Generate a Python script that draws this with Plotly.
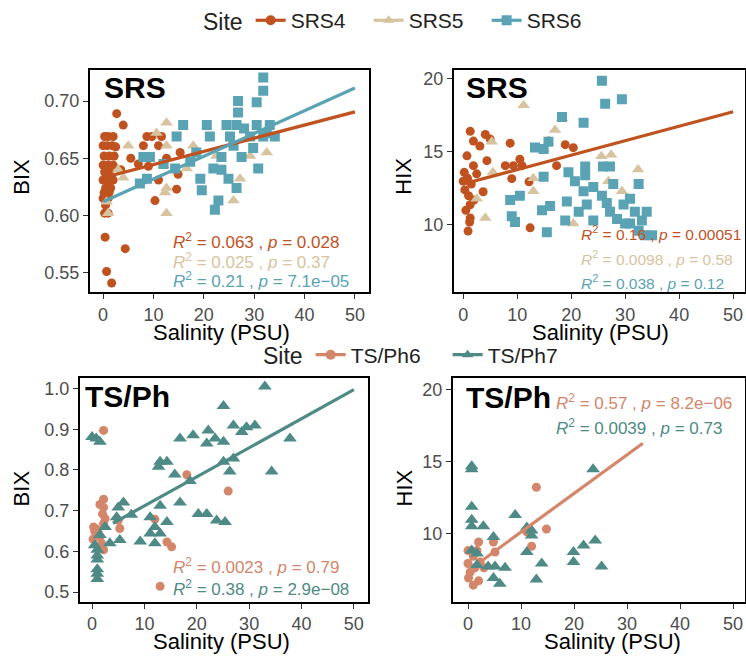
import plotly.graph_objects as go

FW, FH = 746, 662
FONT = "Liberation Sans, Arial, sans-serif"

# ---------------- colours ----------------
C_SRS4 = "#C0521F"
C_SRS5 = "#D8C3A0"
C_SRS6 = "#5AA3B5"
C_PH6 = "#D4866A"
C_PH7 = "#4E8A86"

# ---------------- data: SRS, BIX ----------------
srs4_bix_sal = [2.7, 4.0, 0.3, 1.0, 2.0, 0.0, 0.8, 1.8, 0.2, 1.2, 2.2, 0.0, 1.0, 2.0, 0.3, 1.3,
                0.0, 1.0, 2.0, 0.5, 1.5, 0.2, 1.2, 0.0, 1.0, 0.5, 0.3, 1.0, 0.4, 4.4, 0.7, 1.7,
                8.7, 9.7, 11.6, 8.0, 11.0, 15.3, 12.6, 9.0, 14.9, 11.0, 14.6, 10.3, 3.5, 5.5, 7.0, 2.5]
srs4_bix = [0.689, 0.679, 0.669, 0.669, 0.669, 0.661, 0.661, 0.661, 0.652, 0.652, 0.652, 0.644,
            0.644, 0.644, 0.638, 0.638, 0.631, 0.631, 0.631, 0.624, 0.624, 0.620, 0.620, 0.615,
            0.615, 0.609, 0.602, 0.602, 0.581, 0.571, 0.551, 0.541, 0.669, 0.669, 0.669, 0.661,
            0.661, 0.655, 0.650, 0.643, 0.636, 0.631, 0.623, 0.613, 0.640, 0.650, 0.645, 0.660]
srs5_bix_sal = [12.6, 5.0, 12.6, 17.9, 22.5, 29.2, 32.5, 12.0, 16.6, 4.0, 27.2, 12.6, 12.3, 12.6,
                25.9, 1.0, 0.7, 10.6, 3.0]
srs5_bix = [0.681, 0.661, 0.661, 0.661, 0.652, 0.652, 0.655, 0.644, 0.641, 0.633, 0.632, 0.624,
            0.620, 0.602, 0.613, 0.602, 0.612, 0.672, 0.640]
srs6_bix_sal = [31.8, 31.8, 26.8, 26.8, 30.5, 15.9, 20.6, 24.5, 26.5, 30.5, 33.1, 14.6, 21.2, 25.2,
                29.2, 31.8, 34.1, 25.9, 29.8, 8.0, 9.3, 23.5, 27.5, 30.8, 14.3, 21.9, 8.7, 23.5,
                24.9, 19.3, 19.6, 26.5, 22.9, 22.2, 7.3, 17.3, 28.0, 32.5, 12.0, 18.5]
srs6_bix = [0.7205, 0.709, 0.700, 0.690, 0.699, 0.679, 0.679, 0.679, 0.679, 0.679, 0.679, 0.669,
            0.669, 0.669, 0.669, 0.669, 0.669, 0.661, 0.659, 0.651, 0.651, 0.651, 0.651, 0.641,
            0.641, 0.641, 0.632, 0.640, 0.632, 0.632, 0.622, 0.624, 0.613, 0.605, 0.628, 0.647,
            0.676, 0.672, 0.645, 0.655]
srs4_bix_fit_sal = [0, 50]
srs4_bix_fit = [0.633, 0.6905]
srs6_bix_fit_sal = [0, 50]
srs6_bix_fit = [0.612, 0.7114]

# ---------------- data: SRS, HIX ----------------
srs4_hix_sal = [1.3, 1.9, 3.1, 4.1, 5.0, 0.7, 1.9, 4.4, 0.9, 1.3, 1.3, 3.7, 8.7, 10.5, 7.8, 9.3,
                10.9, 9.0, 12.2, 15.8, 18.9, 20.4, 17.3, 12.4, 0.2, 0.8, 1.5, 0.3, 1.0, 2.0, 0.5,
                1.2, 0.0, 2.5]
srs4_hix = [16.41, 15.74, 15.4, 16.19, 15.88, 14.73, 14.06, 14.4, 9.58, 10.48, 11.38, 12.27, 15.6,
            14.5, 14.06, 14.06, 14.06, 13.17, 12.95, 15.74, 15.5, 15.29, 14.06, 9.8, 13.6, 13.2,
            12.8, 12.4, 12.0, 11.7, 11.0, 10.2, 13.0, 13.5]
srs5_hix_sal = [11.2, 17.0, 18.3, 4.1, 2.5, 5.5, 13.0, 13.0, 25.6, 27.4, 32.4, 26.9, 29.4, 20.4,
                14.9, 5.3]
srs5_hix = [18.2, 16.5, 17.3, 10.48, 11.8, 13.6, 13.2, 12.3, 14.7, 14.8, 13.8, 13.0, 12.3, 10.1,
            15.2, 15.7]
srs6_hix_sal = [25.7, 26.3, 29.4, 18.3, 22.3, 15.8, 13.3, 14.9, 14.9, 10.5, 8.7, 9.0, 9.6, 16.1,
                14.6, 15.5, 19.2, 18.9, 19.5, 20.7, 22.6, 22.6, 21.4, 22.3, 22.9, 24.1, 24.1, 25.9,
                25.7, 26.6, 27.2, 27.8, 28.5, 29.7, 30.0, 30.9, 31.8, 32.5, 33.1, 34.0, 33.7, 32.5,
                35.0, 30.9, 27.2]
srs6_hix = [19.88, 18.3, 18.6, 17.4, 17.0, 15.7, 15.3, 15.2, 13.3, 12.0, 11.7, 10.6, 10.2, 11.3,
            11.0, 9.5, 11.6, 10.3, 13.6, 13.0, 14.0, 13.4, 10.9, 12.3, 11.4, 12.6, 10.3, 14.0,
            12.0, 11.5, 10.9, 12.8, 10.4, 11.4, 10.1, 11.8, 10.9, 12.8, 10.3, 10.9, 9.3, 9.6,
            9.3, 10.1, 14.0]
srs4_hix_fit_sal = [0, 50]
srs4_hix_fit = [12.8, 17.75]

# ---------------- data: TS/Ph, BIX ----------------
ph7_bix_sal = [33.0, 25.1, 0.0, 0.8, 1.5, 27.0, 28.6, 31.1, 29.5, 37.8, 22.2, 19.3, 16.8, 21.9,
               23.5, 25.1, 13.0, 14.3, 12.7, 25.1, 27.0, 26.3, 15.8, 18.7, 34.3, 16.8, 13.0, 6.0,
               5.0, 4.7, 11.1, 20.3, 21.9, 23.8, 25.4, 14.3, 12.0, 11.1, 13.0, 9.2, 12.0, 5.3,
               3.4, 1.0, 1.0, 1.0, 1.0, 1.0, 1.0, 0.5, 1.5, 7.5, 2.5]
ph7_bix = [1.005, 0.957, 0.881, 0.877, 0.869, 0.909, 0.893, 0.909, 0.905, 0.877, 0.897, 0.885,
           0.877, 0.865, 0.877, 0.869, 0.820, 0.820, 0.808, 0.820, 0.828, 0.796, 0.789, 0.773,
           0.796, 0.720, 0.712, 0.720, 0.708, 0.684, 0.684, 0.692, 0.692, 0.676, 0.672, 0.672,
           0.660, 0.644, 0.644, 0.624, 0.620, 0.628, 0.620, 0.604, 0.590, 0.580, 0.556, 0.545,
           0.532, 0.615, 0.640, 0.690, 0.660]
ph6_bix_sal = [2.2, 18.1, 26.0, 12.0, 14.3, 15.2, 13.0, 2.2, 2.2, 2.0, 2.2, 0.3, 1.5, 2.2, 5.0,
               5.3, 0.5, 1.0, 1.8, 0.8, 0.2, 1.2, 2.5, 1.5]
ph6_bix = [0.897, 0.788, 0.748, 0.679, 0.623, 0.611, 0.514, 0.728, 0.708, 0.692, 0.668, 0.660,
           0.636, 0.604, 0.676, 0.656, 0.650, 0.640, 0.620, 0.655, 0.630, 0.645, 0.680, 0.715]
ph7_bix_fit_sal = [4, 50]
ph7_bix_fit = [0.669, 0.997]

# ---------------- data: TS/Ph, HIX ----------------
ph7_hix_sal = [0.7, 0.7, 23.6, 0.7, 8.9, 0.7, 0.7, 2.9, 11.1, 12.0, 12.0, 4.8, 11.1, 19.9, 21.8,
               24.0, 13.9, 19.9, 25.2, 0.7, 3.8, 5.1, 7.0, 4.8, 6.0, 12.9, 1.7, 1.7]
ph7_hix = [14.67, 14.45, 14.45, 11.84, 11.27, 10.95, 10.5, 10.5, 10.4, 10.2, 9.85, 9.75, 8.7, 8.7,
           9.15, 9.5, 7.9, 8.0, 7.7, 8.8, 7.7, 7.7, 7.6, 6.9, 6.5, 6.8, 7.8, 8.6]
ph6_hix_sal = [12.9, 14.8, 12.0, 11.1, 0.0, 2.0, 1.7, 1.0, 2.3, 0.0, 0.1, 1.0, 2.0, 3.0, 5.1, 4.8,
               1.3, 0.4]
ph6_hix = [13.2, 10.3, 9.1, 10.1, 8.8, 9.4, 8.8, 8.4, 8.0, 7.9, 6.9, 6.4, 6.7, 7.6, 8.7, 9.4,
           7.6, 7.3]
ph6_hix_fit_sal = [2.6, 33]
ph6_hix_fit = [8.1, 16.26]

# ---------------- statistics labels ----------------
stat_srs_bix = ["0.063 , <i>p</i> = 0.028", "0.025 , <i>p</i> = 0.37", "0.21 , <i>p</i> = 7.1e\u221205"]
stat_srs_hix = ["0.16 , <i>p</i> = 0.00051", "0.0098 , <i>p</i> = 0.58", "0.038 , <i>p</i> = 0.12"]
stat_ph_bix = ["0.0023 , <i>p</i> = 0.79", "0.38 , <i>p</i> = 2.9e\u221208"]
stat_ph_hix = ["0.57 , <i>p</i> = 8.2e\u221206", "0.0039 , <i>p</i> = 0.73"]


# ---------------- layout helpers (page pixels -> paper) ----------------
def px(x):
    return x / FW


def py(y):
    return 1 - y / FH


panels = {
    "1": dict(x=(90, 369), y=(62, 287), xr=[-2.6, 52.8], yr=[0.533, 0.727],
              yt=[0.55, 0.60, 0.65, 0.70], ytt=["0.55", "0.60", "0.65", "0.70"]),
    "2": dict(x=(454, 745), y=(62, 287), xr=[-1.7, 52.2], yr=[5.4, 20.6],
              yt=[10, 15, 20], ytt=["10", "15", "20"]),
    "3": dict(x=(80, 368), y=(374, 601), xr=[-2.3, 52.7], yr=[0.476, 1.026],
              yt=[0.5, 0.6, 0.7, 0.8, 0.9, 1.0], ytt=["0.5", "0.6", "0.7", "0.8", "0.9", "1.0"]),
    "4": dict(x=(453, 745), y=(374, 601), xr=[-2.83, 52.26], yr=[5.24, 20.8],
              yt=[10, 15, 20], ytt=["10", "15", "20"]),
}

fig = go.Figure()


def axn(k, ax):
    return ax if k == "1" else ax + k


def add_pts(k, xs, ys, color, symbol, size):
    fig.add_trace(go.Scatter(x=xs, y=ys, mode="markers", xaxis=axn(k, "x"), yaxis=axn(k, "y"),
                             marker=dict(color=color, symbol=symbol, size=size, line=dict(width=0)),
                             showlegend=False, hoverinfo="skip"))


def add_fit(k, xs, ys, color):
    fig.add_trace(go.Scatter(x=xs, y=ys, mode="lines", xaxis=axn(k, "x"), yaxis=axn(k, "y"),
                             line=dict(color=color, width=3.2), showlegend=False, hoverinfo="skip"))


# panel 1
add_pts("1", srs4_bix_sal, srs4_bix, C_SRS4, "circle", 9)
add_pts("1", srs5_bix_sal, srs5_bix, C_SRS5, "triangle-up", 11)
add_pts("1", srs6_bix_sal, srs6_bix, C_SRS6, "square", 10)
add_fit("1", srs4_bix_fit_sal, srs4_bix_fit, C_SRS4)
add_fit("1", srs6_bix_fit_sal, srs6_bix_fit, C_SRS6)
# panel 2
add_pts("2", srs4_hix_sal, srs4_hix, C_SRS4, "circle", 9)
add_pts("2", srs5_hix_sal, srs5_hix, C_SRS5, "triangle-up", 11)
add_pts("2", srs6_hix_sal, srs6_hix, C_SRS6, "square", 10)
add_fit("2", srs4_hix_fit_sal, srs4_hix_fit, C_SRS4)
# panel 3
add_pts("3", ph6_bix_sal, ph6_bix, C_PH6, "circle", 9)
add_pts("3", ph7_bix_sal, ph7_bix, C_PH7, "triangle-up", 12)
add_fit("3", ph7_bix_fit_sal, ph7_bix_fit, C_PH7)
# panel 4
add_pts("4", ph6_hix_sal, ph6_hix, C_PH6, "circle", 9)
add_pts("4", ph7_hix_sal, ph7_hix, C_PH7, "triangle-up", 12)
add_fit("4", ph6_hix_fit_sal, ph6_hix_fit, C_PH6)

# legend entries
for name, col, sym, lg in [("SRS4", C_SRS4, "circle", "legend"), ("SRS5", C_SRS5, "triangle-up", "legend"),
                           ("SRS6", C_SRS6, "square", "legend"),
                           ("TS/Ph6", C_PH6, "circle", "legend2"), ("TS/Ph7", C_PH7, "triangle-up", "legend2")]:
    fig.add_trace(go.Scatter(x=[None], y=[None], mode="lines+markers", name=name, legend=lg,
                             marker=dict(color=col, symbol=sym, size=10), line=dict(color=col, width=3.2),
                             showlegend=True))

TICKC = "#4D4D4D"
layout_axes = {}
for k, p in panels.items():
    xa = "xaxis" if k == "1" else "xaxis" + k
    ya = "yaxis" if k == "1" else "yaxis" + k
    layout_axes[xa] = dict(domain=[px(p["x"][0]), min(1, px(p["x"][1]))], range=p["xr"], anchor=axn(k, "y"),
                           tickvals=[0, 10, 20, 30, 40, 50], ticktext=["0", "10", "20", "30", "40", "50"],
                           showline=True, mirror=True, linecolor="black", linewidth=2,
                           ticks="outside", ticklen=5, tickwidth=1.3, tickcolor="#333333",
                           tickfont=dict(size=18, color=TICKC, family=FONT), showgrid=False, zeroline=False)
    layout_axes[ya] = dict(domain=[py(p["y"][1]), py(p["y"][0])], range=p["yr"], anchor=axn(k, "x"),
                           tickvals=p["yt"], ticktext=p["ytt"],
                           showline=True, mirror=True, linecolor="black", linewidth=2,
                           ticks="outside", ticklen=5, tickwidth=1.3, tickcolor="#333333",
                           tickfont=dict(size=18, color=TICKC, family=FONT), showgrid=False, zeroline=False)

ann = []


def txt(x, y, s, size, color="black", angle=0, xanchor="center", bold=False):
    ann.append(dict(x=px(x), y=py(y), xref="paper", yref="paper", text=("<b>%s</b>" % s) if bold else s,
                    showarrow=False, textangle=angle, xanchor=xanchor, yanchor="middle",
                    font=dict(size=size, color=color, family=FONT)))


# axis titles
txt(22, 170, "BIX", 22, angle=-90)
txt(404, 170, "HIX", 22, angle=-90)
txt(21, 486, "BIX", 22, angle=-90)
txt(404, 486, "HIX", 22, angle=-90)
txt(222, 328, "Salinity (PSU)", 22)
txt(600, 328, "Salinity (PSU)", 22)
txt(222, 641, "Salinity (PSU)", 22)
txt(612, 641, "Salinity (PSU)", 22)

# panel labels
txt(102, 80, "SRS", 30, xanchor="left", bold=True)
txt(464, 80, "SRS", 30, xanchor="left", bold=True)
txt(83, 393, "TS/Ph", 30, xanchor="left", bold=True)
txt(464, 394, "TS/Ph", 30, xanchor="left", bold=True)


def stat(x, y, s, color, size=17):
    txt(x, y, "<i>R</i><sup>2</sup> = " + s, size, color=color, xanchor="left")


for s, yy, c in zip(stat_srs_bix, [235, 255, 275], [C_SRS4, C_SRS5, C_SRS6]):
    stat(171, yy, s, c)
for s, yy, c in zip(stat_srs_hix, [227, 252, 277], [C_SRS4, C_SRS5, C_SRS6]):
    stat(579, yy, s, c, 15.5)
for s, yy, c in zip(stat_ph_bix, [565, 587], [C_PH6, C_PH7]):
    stat(171, yy, s, c)
for s, yy, c in zip(stat_ph_hix, [398, 424], [C_PH6, C_PH7]):
    stat(554, yy, s, c)

fig.update_layout(
    width=FW, height=FH, margin=dict(l=0, r=0, t=0, b=0),
    plot_bgcolor="white", paper_bgcolor="white",
    font=dict(family=FONT, color="black"),
    annotations=ann,
    legend=dict(orientation="h", x=px(201), y=py(-9), xanchor="left", yanchor="top",
                title=dict(text="Site", side="left", font=dict(size=23)),
                font=dict(size=21, color="#222"), bgcolor="rgba(0,0,0,0)", itemwidth=30,
                entrywidth=73),
    legend2=dict(orientation="h", x=px(261), y=py(330), xanchor="left", yanchor="top",
                 title=dict(text="Site", side="left", font=dict(size=23)),
                 font=dict(size=21, color="#222"), bgcolor="rgba(0,0,0,0)", itemwidth=30,
                 entrywidth=92),
    **layout_axes,
)

fig.write_html("out.html", config={"displayModeBar": False},
               post_script="document.body.style.margin='0';document.body.style.overflow='hidden';")
